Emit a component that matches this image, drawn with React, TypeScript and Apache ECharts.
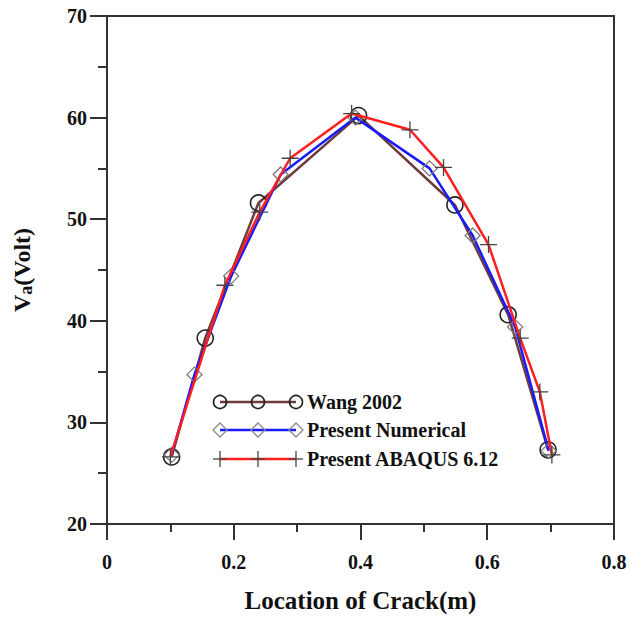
import React, { useEffect, useRef } from "react";
import * as echarts from "echarts";

// Crack location (m) and measured voltage Va (Volt) for each data set
const wangX = [0.102, 0.155, 0.239, 0.397, 0.549, 0.633, 0.696];
const wangY = [26.6, 38.3, 51.6, 60.2, 51.4, 40.6, 27.3];

const numX = [0.102, 0.138, 0.196, 0.274, 0.392, 0.509, 0.577, 0.644, 0.697];
const numY = [26.8, 34.7, 44.4, 54.4, 60.0, 55.0, 48.4, 39.4, 27.2];

const abqX = [0.1, 0.186, 0.241, 0.289, 0.386, 0.478, 0.531, 0.602, 0.652, 0.683, 0.702];
const abqY = [26.6, 43.5, 50.7, 56.0, 60.4, 58.8, 55.1, 47.5, 38.3, 33.0, 26.8];

const seriesNames = ["Wang 2002", "Present Numerical", "Present ABAQUS 6.12"];
const xTicks = [0, 0.2, 0.4, 0.6, 0.8];

const zip = (xs: number[], ys: number[]) => xs.map((x, i) => [x, ys[i]]);

const SERIF = "'Liberation Serif', 'DejaVu Serif', serif";
const BROWN = "#6e3a3a";
const BLUE = "#1a1aff";
const RED = "#ff1f1f";
const PLUS = "path://M5,0L5,10M0,5L10,5";

// legend drawn as line + three markers per row
function legendRow(i: number, y: number) {
  const x0 = 220;
  const x1 = 296;
  const xs = [x0, (x0 + x1) / 2, x1];
  const color = [BROWN, BLUE, RED][i];
  const children: any[] = [
    { type: "line", shape: { x1: x0, y1: y, x2: x1, y2: y }, style: { stroke: color, lineWidth: 2.5 } },
  ];
  xs.forEach((cx) => {
    if (i === 0) {
      children.push({ type: "circle", shape: { cx, cy: y, r: 6.5 }, style: { fill: "none", stroke: "#222", lineWidth: 1.6 } });
    } else if (i === 1) {
      children.push({
        type: "polygon",
        shape: { points: [[cx - 7, y], [cx, y - 7], [cx + 7, y], [cx, y + 7]] },
        style: { fill: "none", stroke: "#8a8a8a", lineWidth: 1.3 },
      });
    } else {
      children.push({ type: "line", shape: { x1: cx, y1: y - 8, x2: cx, y2: y + 8 }, style: { stroke: "#444", lineWidth: 1.3 } });
      children.push({ type: "line", shape: { x1: cx - 7, y1: y, x2: cx + 7, y2: y }, style: { stroke: "#444", lineWidth: 1.3 } });
    }
  });
  children.push({
    type: "text",
    x: 307,
    y,
    style: {
      text: seriesNames[i],
      font: `bold 20px ${SERIF}`,
      fill: "#111",
      verticalAlign: "middle",
      align: "left",
    },
  });
  return { type: "group", children };
}

export default function App() {
  const ref = useRef<HTMLDivElement>(null);

  useEffect(() => {
    if (!ref.current) return;
    const chart = echarts.init(ref.current, null, { renderer: "svg" });
    const axisText = { fontFamily: SERIF, fontWeight: "bold" as const, fontSize: 20, color: "#111" };

    chart.setOption({
      animation: false,
      backgroundColor: "#fff",
      grid: {
        left: 107,
        right: 15,
        top: 16,
        bottom: 97,
        show: true,
        borderColor: "#333",
        borderWidth: 2,
        containLabel: false,
        outerBoundsMode: "none",
      },
      xAxis: {
        type: "value",
        min: 0,
        max: 0.8,
        interval: 0.2,
        name: "Location of Crack(m)",
        nameLocation: "middle",
        nameGap: 64,
        nameTextStyle: { fontFamily: SERIF, fontWeight: "bold", fontSize: 25, color: "#111" },
        axisLine: { show: true, lineStyle: { color: "#333", width: 2 } },
        axisTick: { show: true, length: 16, inside: false, lineStyle: { color: "#333", width: 2 } },
        minorTick: { show: true, splitNumber: 2, length: 8, lineStyle: { color: "#333", width: 2 } },
        splitLine: { show: false },
        axisLabel: {
          ...axisText,
          margin: 28,
          formatter: (v: number) => {
            const t = xTicks.find((k) => Math.abs(k - v) < 1e-9);
            return t === 0 ? "0" : String(t ?? v);
          },
        },
      },
      yAxis: {
        type: "value",
        min: 20,
        max: 70,
        interval: 10,
        name: "{v|V}{s|a}{v|(Volt)}",
        nameLocation: "middle",
        nameGap: 72,
        nameRotate: 90,
        nameTextStyle: {
          rich: {
            v: { fontFamily: SERIF, fontWeight: "bold", fontSize: 24, color: "#111" },
            s: { fontFamily: SERIF, fontWeight: "bold", fontSize: 18, color: "#111", verticalAlign: "bottom", padding: [8, 0, 0, 0] },
          },
        },
        axisLine: { show: true, lineStyle: { color: "#333", width: 2 } },
        axisTick: { show: true, length: 17, inside: false, lineStyle: { color: "#333", width: 2 } },
        minorTick: { show: true, splitNumber: 2, length: 9, lineStyle: { color: "#333", width: 2 } },
        splitLine: { show: false },
        axisLabel: { ...axisText, margin: 20 },
      },
      series: [
        {
          name: seriesNames[0],
          type: "line",
          data: zip(wangX, wangY),
          symbol: "circle",
          symbolSize: 16,
          showAllSymbol: true,
          lineStyle: { color: BROWN, width: 2.5 },
          itemStyle: { color: "transparent", borderColor: "#222", borderWidth: 1.6 },
          z: 2,
        },
        {
          name: seriesNames[1],
          type: "line",
          data: zip(numX, numY),
          symbol: "diamond",
          symbolSize: 15,
          showAllSymbol: true,
          lineStyle: { color: BLUE, width: 2.5 },
          itemStyle: { color: "transparent", borderColor: "#7a7a7a", borderWidth: 1.3 },
          z: 3,
        },
        {
          name: seriesNames[2],
          type: "line",
          data: zip(abqX, abqY),
          symbol: PLUS,
          symbolSize: 17,
          showAllSymbol: true,
          lineStyle: { color: RED, width: 2.5 },
          itemStyle: { color: "transparent", borderColor: "#444", borderWidth: 1.3 },
          z: 4,
        },
      ],
      graphic: [legendRow(0, 402), legendRow(1, 430), legendRow(2, 459)],
    });

    return () => chart.dispose();
  }, []);

  return (
    <div
      ref={ref}
      style={{ position: "fixed", left: 0, top: 0, width: 629, height: 621, background: "#fff" }}
    />
  );
}
